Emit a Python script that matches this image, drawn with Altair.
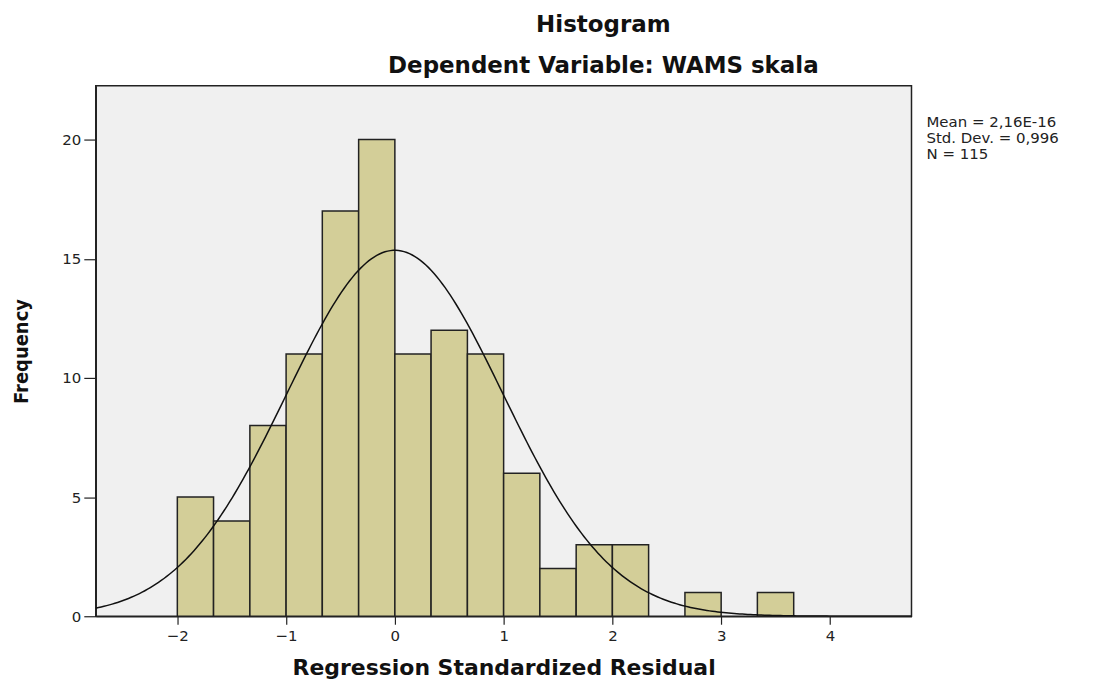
import altair as alt
import pandas as pd
import numpy as np

# Histogram bins (lower edge, upper edge) and frequencies
bin_lo = [-2.0, -1.667, -1.333, -1.0, -0.667, -0.333, 0.0, 0.333, 0.667, 1.0, 1.333, 1.667, 2.0, 2.667, 3.333]
bin_hi = [-1.667, -1.333, -1.0, -0.667, -0.333, 0.0, 0.333, 0.667, 1.0, 1.333, 1.667, 2.0, 2.333, 3.0, 3.667]
counts = [5, 4, 8, 11, 17, 20, 11, 12, 11, 6, 2, 3, 3, 1, 1]

# Summary statistics shown on the chart
mean = 2.16e-16
std_dev = 0.996
n_obs = 115
bin_width = 1 / 3
stats_lines = ["Mean = 2,16E-16", "Std. Dev. = 0,996", "N = 115"]

x_ticks = [-2, -1, 0, 1, 2, 3, 4]
y_ticks = [0, 5, 10, 15, 20]
x_domain = [-2.75, 4.75]
y_domain = [0, 22.26]

bars = pd.DataFrame({"lo": bin_lo, "hi": bin_hi, "count": counts})

# Fitted normal curve scaled to frequencies
xs = np.linspace(x_domain[0], x_domain[1], 300)
ys = n_obs * bin_width / (std_dev * np.sqrt(2 * np.pi)) * np.exp(-0.5 * ((xs - mean) / std_dev) ** 2)
curve = pd.DataFrame({"x": xs, "y": ys})

W, H = 818, 532
WIDE = "DejaVu Sans, Liberation Sans, sans-serif"
NARROW = "DejaVu Sans Condensed, Liberation Sans Narrow, Liberation Sans, sans-serif"

xscale = alt.Scale(domain=x_domain, nice=False, zero=False)
yscale = alt.Scale(domain=y_domain, nice=False)

x_axis = alt.Axis(values=x_ticks, format="d", title="Regression Standardized Residual", grid=False,
                  labelFontSize=15, labelColor="#222222", labelFont=WIDE,
                  titleFontSize=22, titleFont=WIDE, titleFontWeight="bold",
                  titleColor="#111111", titlePadding=14, tickSize=8, tickColor="#222222",
                  domainColor="#222222", domainWidth=1.5, tickWidth=1.2, labelPadding=4)
y_axis = alt.Axis(values=y_ticks, format="d", title="Frequency", grid=False,
                  labelFontSize=15, labelColor="#222222", labelFont=WIDE,
                  titleFontSize=20, titleFont=NARROW, titleFontWeight="bold",
                  titleColor="#111111", titlePadding=30, tickSize=12, tickColor="#222222",
                  domainColor="#222222", domainWidth=1.5, tickWidth=1.2, labelPadding=3)

rects = alt.Chart(bars).mark_rect(fill="#D3CE98", stroke="#222222", strokeWidth=1.5).encode(
    x=alt.X("lo:Q", scale=xscale, axis=x_axis),
    x2="hi:Q",
    y=alt.Y("count:Q", scale=yscale, axis=y_axis),
    y2=alt.datum(0),
)

line = alt.Chart(curve).mark_line(color="#111111", strokeWidth=1.5, clip=True).encode(
    x=alt.X("x:Q", scale=xscale),
    y=alt.Y("y:Q", scale=yscale),
)

stats = alt.Chart(pd.DataFrame({"t": ["\n".join(stats_lines)]})).mark_text(
    align="left", baseline="top", fontSize=15, font=WIDE, color="#222222",
    lineBreak="\n", lineHeight=16
).encode(x=alt.value(W + 15), y=alt.value(29), text="t:N")

chart = alt.layer(rects, line, stats).properties(
    width=W, height=H,
    background="white",
    title=alt.TitleParams(
        "Histogram", subtitle="Dependent Variable: WAMS skala",
        fontSize=23, font=WIDE, fontWeight="bold", color="#111111",
        subtitleFontSize=23, subtitleFont=WIDE, subtitleFontWeight="bold",
        subtitleColor="#111111", subtitlePadding=18, anchor="middle", dx=100, offset=8,
    ),
    autosize=alt.AutoSizeParams(type="none"),
    padding={"left": 88, "top": 77, "right": 180, "bottom": 66},
).configure_view(
    fill="#F0F0F0", stroke="#222222", strokeWidth=1.5
)

chart.save("out.html", embed_options={"renderer": "svg", "actions": False})
